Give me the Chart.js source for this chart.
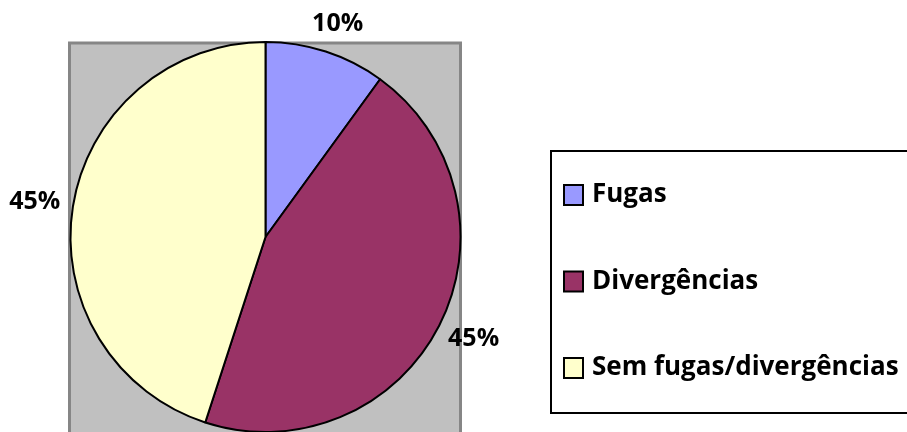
<!DOCTYPE html>
<html><head><meta charset="utf-8">
<script src="https://cdn.jsdelivr.net/npm/chart.js@4/dist/chart.umd.min.js"></script>
<style>html,body{margin:0;padding:0;background:#fff;overflow:hidden}#wrap{width:907px;height:432px;position:relative}</style>
</head><body><div id="wrap"><canvas id="c" width="907" height="432"></canvas></div>
<script>
const categories = ['Fugas', 'Divergências', 'Sem fugas/divergências'];
const values = [10, 45, 45];
const sliceColors = ['#9999FF', '#993366', '#FFFFCC'];

const FONT = '"Open Sans", Lato, sans-serif';
const LABEL_FONT = 'bold 25px ' + FONT;
const LEGEND_FONT = 'bold 26px ' + FONT;

const plotBg = {
  id: 'plotBg',
  beforeDraw(chart) {
    const {ctx, chartArea: a} = chart;
    ctx.save();
    const x = a.left + 0.5, y = a.top, w = a.right - a.left - 2, h = chart.height - a.top + 10;
    ctx.fillStyle = '#C0C0C0';
    ctx.fillRect(x, y, w, h);
    ctx.strokeStyle = '#868686';
    ctx.lineWidth = 3;
    ctx.strokeRect(x, y, w, h);
    ctx.restore();
  }
};

const pctLabels = {
  id: 'pctLabels',
  afterDatasetsDraw(chart) {
    const {ctx} = chart;
    const meta = chart.getDatasetMeta(0);
    const ds = chart.data.datasets[0].data;
    const total = ds.reduce((s, v) => s + v, 0);
    ctx.save();
    ctx.font = LABEL_FONT;
    ctx.fillStyle = '#000';
    ctx.textAlign = 'center';
    ctx.textBaseline = 'middle';
    meta.data.forEach((arc, i) => {
      const p = arc.getProps(['x', 'y', 'startAngle', 'endAngle', 'outerRadius'], true);
      const mid = (p.startAngle + p.endAngle) / 2;
      const txt = Math.round(ds[i] / total * 100) + '%';
      const w = ctx.measureText(txt).width, h = 40;
      const r = p.outerRadius + 9;
      const cx = p.x + r * Math.cos(mid) + (w / 2 + 4) * Math.cos(mid);
      const cy = p.y + r * Math.sin(mid) + (h / 2) * Math.sin(mid);
      ctx.fillText(txt, cx, cy);
    });
    ctx.restore();
  }
};

const boxLegend = {
  id: 'boxLegend',
  afterDraw(chart) {
    const {ctx} = chart;
    const bx = 551, by = 151, bw = 380, bh = 262;
    ctx.save();
    ctx.strokeStyle = '#000';
    ctx.lineWidth = 2;
    ctx.strokeRect(bx, by, bw, bh);
    ctx.font = LEGEND_FONT;
    ctx.textBaseline = 'middle';
    ctx.textAlign = 'left';
    chart.data.labels.forEach((lab, i) => {
      const cy = by + 44 + i * 86.5;
      ctx.fillStyle = chart.data.datasets[0].backgroundColor[i];
      ctx.fillRect(564, cy - 10, 19, 20);
      ctx.lineWidth = 2;
      ctx.strokeStyle = '#000';
      ctx.strokeRect(564, cy - 10, 19, 20);
      ctx.fillStyle = '#000';
      ctx.fillText(lab, 592, cy);
    });
    ctx.restore();
  }
};

new Chart(document.getElementById('c'), {
  type: 'pie',
  data: {
    labels: categories,
    datasets: [{
      data: values,
      backgroundColor: sliceColors,
      borderColor: '#000',
      borderWidth: 2
    }]
  },
  options: {
    responsive: false,
    animation: false,
    radius: 195,
    layout: {padding: {left: 69, top: 43, right: 445, bottom: 1}},
    plugins: {legend: {display: false}, tooltip: {enabled: false}}
  },
  plugins: [plotBg, pctLabels, boxLegend]
});
</script>
</body></html>
